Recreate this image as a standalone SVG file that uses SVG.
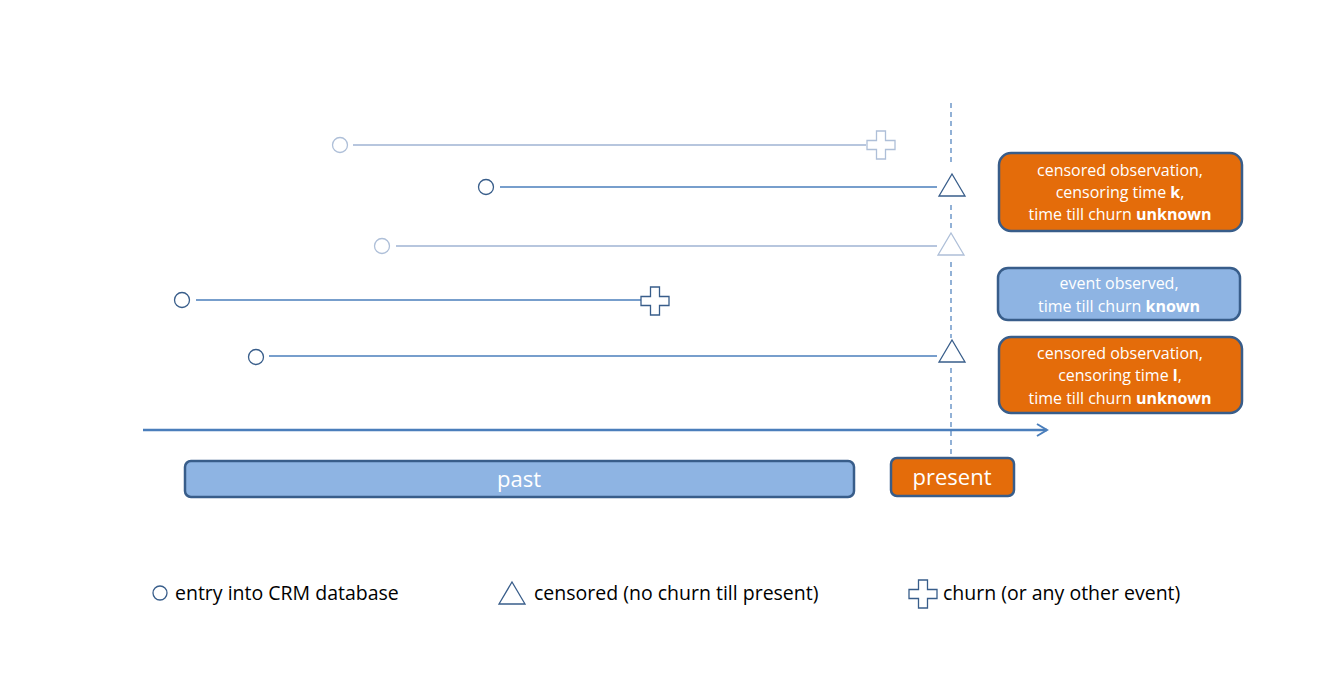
<svg xmlns="http://www.w3.org/2000/svg" width="1338" height="682" viewBox="0 0 1338 682">
<style>
  .bg{fill:#ffffff}
  .ln{stroke:#4a7ebb;stroke-width:1.3;fill:none}
  .lnl{stroke:#9fb3d3;stroke-width:1.3;fill:none}
  .sh{stroke:#385d8a;stroke-width:1.3;fill:#ffffff}
  .shl{stroke:#aebfd8;stroke-width:1.3;fill:#ffffff}
  .dash{stroke:#4a7ebb;stroke-width:1.2;stroke-dasharray:5 4;fill:none}
  .box{stroke:#385d8a;stroke-width:2.5}
  .or{fill:#e46c0a}
  .bl{fill:#8eb4e3}
  .bt{font-family:"Open Sans","Liberation Sans",sans-serif;font-size:16px;fill:#ffffff;text-anchor:middle}
  .big{font-family:"Open Sans","Liberation Sans",sans-serif;font-size:22px;fill:#ffffff;text-anchor:middle}
  .lg{font-family:"Open Sans","Liberation Sans",sans-serif;font-size:19.5px;fill:#000000}
  .b{font-weight:bold}
</style>
<defs>
  <marker id="arr" markerWidth="14" markerHeight="14" refX="11" refY="7" orient="auto" markerUnits="userSpaceOnUse">
    <path d="M1,1 L11,7 L1,13" fill="none" stroke="#4a7ebb" stroke-width="2"/>
  </marker>
  <path id="plus" d="M-4.5,-14 H4.5 V-4.5 H14 V4.5 H4.5 V14 H-4.5 V4.5 H-14 V-4.5 H-4.5 Z"/>
  <path id="tri" d="M0,-12 L13,10 H-13 Z"/>
</defs>
<rect class="bg" x="0" y="0" width="1338" height="682"/>

<g id="connectors">
  <path class="dash" d="M951,103 V165"/>
  <path class="dash" d="M951,205 V232"/>
  <path class="dash" d="M951,262 V338"/>
  <path class="dash" d="M951,368 V455"/>
  <line class="lnl" x1="353" y1="145" x2="866" y2="145"/>
  <line class="ln" x1="500" y1="187" x2="937" y2="187"/>
  <line class="lnl" x1="396" y1="246" x2="937" y2="246"/>
  <line class="ln" x1="196" y1="300" x2="641" y2="300"/>
  <line class="ln" x1="269" y1="356" x2="937" y2="356"/>
  <line x1="143" y1="430" x2="1047" y2="430" stroke="#4a7ebb" stroke-width="2.5" marker-end="url(#arr)"/>
</g>

<g id="row1">
  <circle class="shl" cx="340" cy="145" r="7.5"/>
  <use href="#plus" class="shl" x="881" y="145"/>
</g>
<g id="row2">
  <circle class="sh" cx="486" cy="187" r="7.5"/>
  <use href="#tri" class="sh" x="952" y="186"/>
</g>
<g id="row3">
  <circle class="shl" cx="382" cy="246" r="7.5"/>
  <use href="#tri" class="shl" x="951" y="245"/>
</g>
<g id="row4">
  <circle class="sh" cx="182" cy="300" r="7.5"/>
  <use href="#plus" class="sh" x="655" y="301"/>
</g>
<g id="row5">
  <circle class="sh" cx="256" cy="357" r="7.5"/>
  <use href="#tri" class="sh" x="952" y="352"/>
</g>

<g id="box-k">
  <rect class="box or" x="999" y="153" width="243" height="78" rx="12"/>
  <text class="bt" x="1120" y="176">censored observation,</text>
  <text class="bt" x="1120" y="198">censoring time <tspan class="b">k</tspan>,</text>
  <text class="bt" x="1120" y="220">time till churn <tspan class="b">unknown</tspan></text>
</g>
<g id="box-event">
  <rect class="box bl" x="998" y="268" width="242" height="52" rx="10"/>
  <text class="bt" x="1119" y="289">event observed,</text>
  <text class="bt" x="1119" y="312">time till churn <tspan class="b">known</tspan></text>
</g>
<g id="box-l">
  <rect class="box or" x="999" y="337" width="243" height="76" rx="12"/>
  <text class="bt" x="1120" y="359">censored observation,</text>
  <text class="bt" x="1120" y="381">censoring time <tspan class="b">l</tspan>,</text>
  <text class="bt" x="1120" y="404">time till churn <tspan class="b">unknown</tspan></text>
</g>

<g id="past">
  <rect class="box bl" x="185" y="461" width="669" height="36" rx="6"/>
  <text class="big" x="519" y="487">past</text>
</g>
<g id="present">
  <rect class="box or" x="891" y="458" width="123" height="38" rx="6"/>
  <text class="big" x="952" y="485">present</text>
</g>

<g id="legend">
  <circle class="sh" cx="160" cy="593" r="7"/>
  <text class="lg" x="175" y="600">entry into CRM database</text>
  <path class="sh" d="M512,582 L525,604 H499 Z"/>
  <text class="lg" x="534" y="600">censored (no churn till present)</text>
  <use href="#plus" class="sh" x="923" y="594"/>
  <text class="lg" x="943" y="600">churn (or any other event)</text>
</g>
</svg>
